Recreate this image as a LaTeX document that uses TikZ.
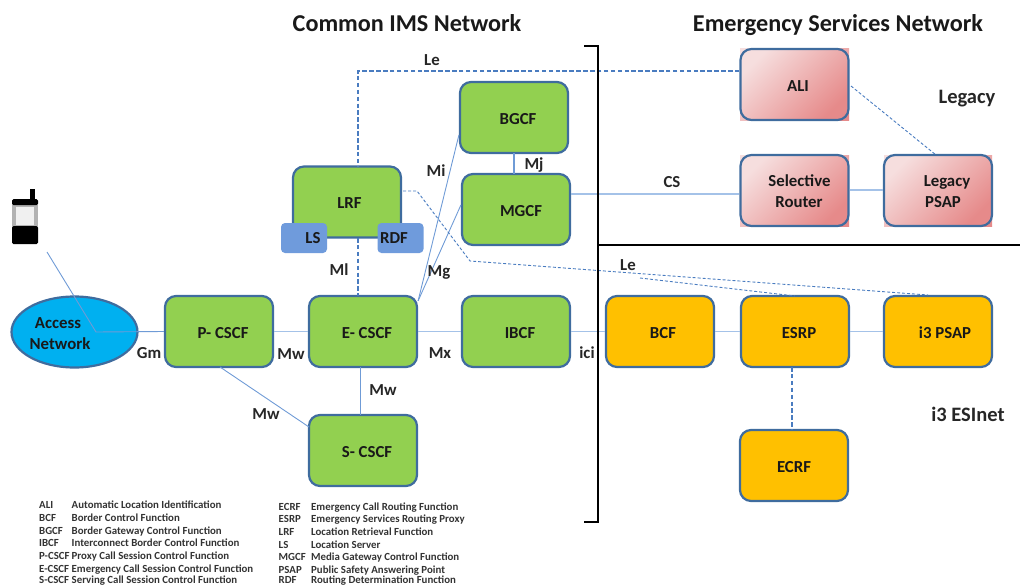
\documentclass[tikz,border=0pt]{standalone}
\usepackage{fontspec}
\setmainfont{Carlito}[BoldFont=Carlito Bold]
\usetikzlibrary{calc,shapes.geometric}
\definecolor{edgeblue}{HTML}{3F6C9E}
\definecolor{wire}{HTML}{6F9BD6}
\definecolor{wirelt}{HTML}{A4C2E8}
\definecolor{dashblue}{HTML}{4A7CC0}
\definecolor{boxgreen}{HTML}{92D050}
\definecolor{boxamber}{HTML}{FFC000}
\definecolor{boxcyan}{HTML}{00B0F0}
\definecolor{boxblue}{HTML}{6F9BDC}
\definecolor{pinkA}{HTML}{F6DEDE}
\definecolor{pinkB}{HTML}{E68A8A}
\newcommand{\bxt}[2][0pt]{\hspace*{#1}\raisebox{-2pt}[11.6pt][2pt]{#2}}
\tikzset{
  x=1pt,y=-1pt,
  pinkshade/.style={top color=pinkA,bottom color=pinkB,shading angle=45},
  fbox/.style={draw=edgeblue,line width=2.2pt,rounded corners=11pt,minimum width=108pt,minimum height=71pt,inner sep=0pt,align=center,font=\fontsize{16.8}{21}\selectfont\bfseries,text=black!90},
  greenbox/.style={fbox,fill=boxgreen},
  amberbox/.style={fbox,fill=boxamber},
  pinkbox/.style={fbox,path picture={\shade[pinkshade] (path picture bounding box.south west) rectangle (path picture bounding box.north east);}},
  bluetab/.style={rounded corners=4pt,fill=boxblue,minimum width=46pt,minimum height=30pt,inner sep=0pt,font=\fontsize{16.8}{18}\selectfont\bfseries,text=black!90},
  ellbox/.style={draw=edgeblue,line width=2.2pt,fill=boxcyan,ellipse,minimum width=126pt,minimum height=71pt,inner sep=0pt,align=center,font=\fontsize{16.8}{21}\selectfont\bfseries,text=black!90},
  lab/.style={font=\fontsize{16.8}{18}\selectfont\bfseries,inner sep=0pt,text=black!85},
  title/.style={font=\fontsize{24.2}{26}\selectfont\bfseries,inner sep=0pt,anchor=base,text=black!90},
  zone/.style={font=\fontsize{20.5}{22}\selectfont\bfseries,inner sep=0pt,anchor=base,text=black!85},
  leg/.style={font=\fontsize{10.85}{12}\selectfont\bfseries,inner sep=0pt,anchor=base west,text=black!80},
  thinw/.style={draw=wire,line width=0.9pt},
  ltw/.style={draw=wirelt,line width=1.5pt},
  thickdash/.style={draw=dashblue,line width=2.5pt,dash pattern=on 4.5pt off 2.4pt},
  thindash/.style={draw=dashblue,line width=0.9pt,dash pattern=on 3pt off 2pt},
  rule/.style={draw=black,line width=2.3pt},
}
\begin{document}
\begin{tikzpicture}
\useasboundingbox (0,0) rectangle (1020,586);

% coordinates used as free ends and bends
\coordinate (phoneend) at (47,252);
\coordinate (bendgm) at (96,332);
\coordinate (lecorner) at (358,71);
\coordinate (lrfdash) at (417,191);
\coordinate (lebend) at (470,261);
\coordinate (lesplit) at (640,278);
\coordinate (bracktl) at (584,46);
\coordinate (brackt) at (598,46);
\coordinate (brackb) at (598,522);
\coordinate (brackbl) at (584,522);
\coordinate (divl) at (598,245);
\coordinate (divr) at (1020,245);

% square pink backing that shows at the corners of the legacy boxes
\shade[pinkshade] (740,49) rectangle (849,120);
\shade[pinkshade] (740,155) rectangle (849,226);
\shade[pinkshade] (884,155) rectangle (992,226);

% boxes
\node[pinkbox] (ali) at (794.5,84.5) {\bxt[7pt]{ALI}};
\node[pinkbox] (sr) at (794.5,190.5) {\bxt[10pt]{Selective}\\\bxt[9pt]{Router}};
\node[pinkbox] (lpsap) at (938,190.5) {\bxt[18pt]{Legacy}\\\bxt[10pt]{PSAP}};
\node[greenbox] (bgcf) at (514,117.5) {\bxt[8pt]{BGCF}};
\node[greenbox] (mgcf) at (516,209.5) {\bxt[10pt]{MGCF}};
\node[greenbox] (lrf) at (347,202) {\bxt[5pt]{LRF}};
\node[greenbox] (pcscf) at (219,331.5) {\bxt[8pt]{P- CSCF}};
\node[greenbox] (ecscf) at (363,331.5) {\bxt[8pt]{E- CSCF}};
\node[greenbox] (ibcf) at (516,331.5) {\bxt[8pt]{IBCF}};
\node[amberbox] (bcf) at (660,331.5) {\bxt[6pt]{BCF}};
\node[amberbox] (esrp) at (795,331.5) {\bxt[8pt]{ESRP}};
\node[amberbox] (i3psap) at (938,331.5) {\bxt[14pt]{i3 PSAP}};
\node[greenbox] (scscf) at (363,450.5) {\bxt[8pt]{S- CSCF}};
\node[amberbox] (ecrf) at (794,465.5) {\bxt{ECRF}};
\node[bluetab] (ls) at (304,238) {\hspace*{18pt}LS};
\node[bluetab] (rdf) at (400.5,238) {\hspace*{-13pt}RDF};
\node[ellbox] (an) at (74.5,332) {\bxt[-33pt]{Access}\\\bxt[-29pt]{Network}};

% handset
\fill[black] (30,189) rectangle (35,200);
\fill[black!30] (12,203) rectangle (38,228);
\fill[white!94!black] (16,207) rectangle (34,225);
\fill[black,rounded corners=1.5pt] (12,199) rectangle (38,205);
\fill[black,rounded corners=1.5pt] (12,226) rectangle (38,244);

% connectors
\draw[thinw] (phoneend) -- (bendgm) -- (pcscf.west);
\draw[ltw] (pcscf.east) -- (ecscf.west);
\draw[ltw] (ecscf.east) -- (ibcf.west);
\draw[ltw] (ibcf.east) -- (bcf.west);
\draw[ltw] (bcf.east) -- (esrp.west);
\draw[ltw] (esrp.east) -- (i3psap.west);
\draw[thinw] ($(ecscf.north east)+(0,6)$) -- (bgcf.west |- 0,135);
\draw[thinw] ($(ecscf.north east)+(0,6)$) -- (mgcf.west |- 0,205);
\draw[thinw,line width=1.4pt] (514,153) -- (514,174);
\draw[ltw] (mgcf.east |- 0,194) -- (sr.west |- 0,194);
\draw[ltw] (sr.east |- 0,190) -- (lpsap.west |- 0,190);
\draw[thinw] (220,367) -- (309,427);
\draw[thinw] (360,367) -- (360,415);
\draw[thickdash] (ali.west |- lecorner) -- (lecorner) -- (358,167);
\draw[thickdash] (358,238) -- (358,296);
\draw[thickdash] (792,367) -- (792,430);
\draw[thindash] (851,86) -- (936,155);
\draw[thindash] (403,191) -- (lrfdash) -- (lebend) -- (928,295);
\draw[thindash] (lesplit) -- (795,296);

% frame lines
\draw[rule] (bracktl) -- (brackt) -- (brackb) -- (brackbl);
\draw[rule] (divl) -- (divr);

% titles and zones
\node[title] (t1) at (407,31.5) {Common IMS Network};
\node[title] (t2) at (838,31.5) {Emergency Services Network};
\node[zone] (z1) at (967,103) {Legacy};
\node[zone] (z2) at (968,421) {i3 ESInet};

% interface labels
\node[lab] (l1) at (432,60) {Le};
\node[lab] (l2) at (436,171) {Mi};
\node[lab] (l3) at (534,165) {Mj};
\node[lab] (l4) at (672,182) {CS};
\node[lab] (l5) at (628,265) {Le};
\node[lab] (l6) at (439,272) {Mg};
\node[lab] (l7) at (339,270) {Ml};
\node[lab] (l8) at (149,353) {Gm};
\node[lab] (l9) at (291,354) {Mw};
\node[lab] (l10) at (440,353) {Mx};
\node[lab] (l11) at (587,353) {ici};
\node[lab] (l12) at (383,390) {Mw};
\node[lab] (l13) at (266,414) {Mw};

% legend, left column
\node[leg] (a1) at (39,508.5) {ALI};      \node[leg] (b1) at (71.5,508.5) {Automatic Location Identification};
\node[leg] (a2) at (39,521.3) {BCF};      \node[leg] (b2) at (71.5,521.3) {Border Control Function};
\node[leg] (a3) at (39,534) {BGCF};     \node[leg] (b3) at (71.5,534) {Border Gateway Control Function};
\node[leg] (a4) at (39,546.8) {IBCF};   \node[leg] (b4) at (71.5,546.8) {Interconnect Border Control Function};
\node[leg] (a5) at (39,559.3) {P-CSCF};   \node[leg] (b5) at (71.5,559.3) {Proxy Call Session Control Function};
\node[leg] (a6) at (39,572) {E-CSCF};   \node[leg] (b6) at (71.5,572) {Emergency Call Session Control Function};
\node[leg] (a7) at (39,583.6) {S-CSCF}; \node[leg] (b7) at (71.5,583.6) {Serving Call Session Control Function};
% legend, right column
\node[leg] (c1) at (278.5,510) {ECRF};  \node[leg] (d1) at (311,510) {Emergency Call Routing Function};
\node[leg] (c2) at (278.5,522.7) {ESRP};  \node[leg] (d2) at (311,522.7) {Emergency Services Routing Proxy};
\node[leg] (c3) at (278.5,535.3) {LRF}; \node[leg] (d3) at (311,535.3) {Location Retrieval Function};
\node[leg] (c4) at (278.5,548) {LS};    \node[leg] (d4) at (311,548) {Location Server};
\node[leg] (c5) at (278.5,560.5) {MGCF};  \node[leg] (d5) at (311,560.5) {Media Gateway Control Function};
\node[leg] (c6) at (278.5,573) {PSAP};  \node[leg] (d6) at (311,573) {Public Safety Answering Point};
\node[leg] (c7) at (278.5,583.6) {RDF};   \node[leg] (d7) at (311,583.6) {Routing Determination Function};
\end{tikzpicture}
\end{document}
